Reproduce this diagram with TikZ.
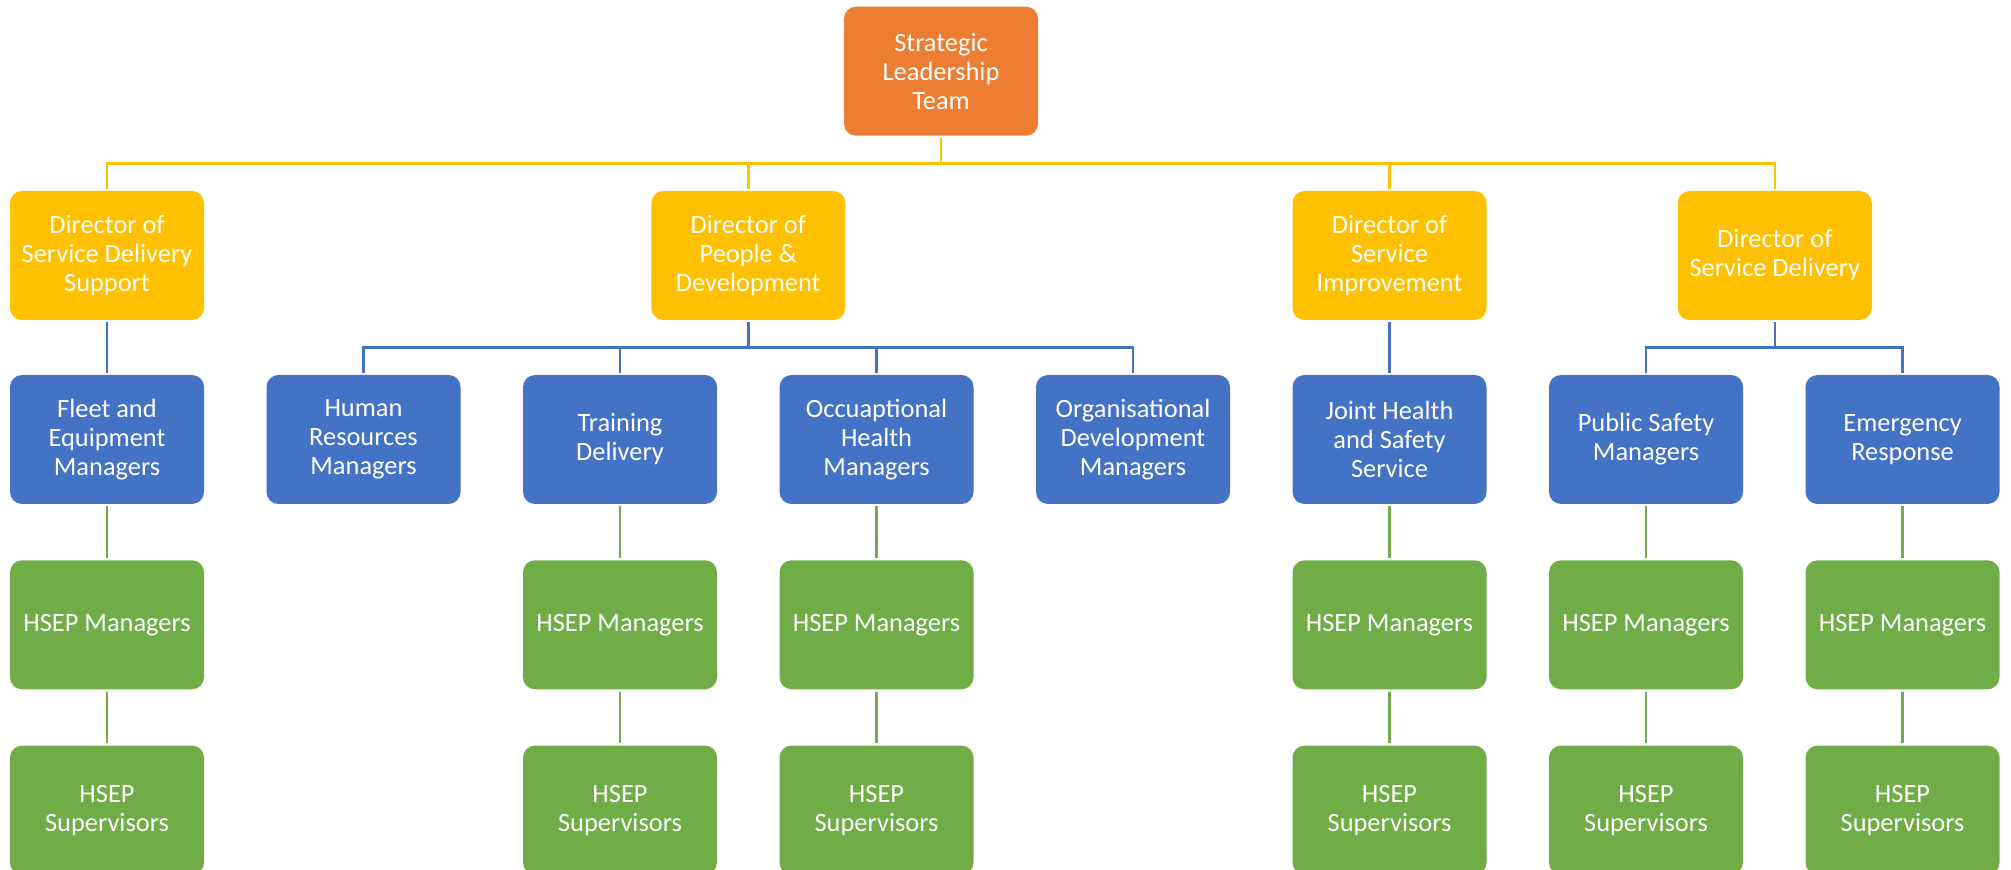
\documentclass[tikz,border=0pt]{standalone}
\usepackage{fontspec}
\setmainfont{Carlito}
\usepackage{xcolor}
\usetikzlibrary{calc,positioning}
\definecolor{sltorange}{HTML}{ED7D31}
\definecolor{diryellow}{HTML}{FFC000}
\definecolor{mgrblue}{HTML}{4472C4}
\definecolor{hsepgreen}{HTML}{70AD47}
\tikzset{%
  unit/.style={rectangle,rounded corners=6pt,minimum width=97pt,minimum height=64.5pt,
    inner sep=2pt,align=center,text=white,font=\fontsize{13.2}{14.5}\selectfont},
  slt/.style={unit,fill=sltorange},
  director/.style={unit,fill=diryellow},
  manager/.style={unit,fill=mgrblue},
  hsep/.style={unit,fill=hsepgreen},
  link/.style={line width=1.25pt,shorten <=1pt,shorten >=1pt},
}

\begin{document}
\begin{tikzpicture}[x=0.5pt,y=0.5pt,node distance=27.75pt]
  \useasboundingbox (0,0) rectangle (2011,-870);

  \node[slt] (team) at (941,-71.2) {Strategic\\Leadership\\Team};

  \node[director] (dsds) at (107,-255.5) {Director of\\Service Delivery\\Support};
  \node[director] (dpd) at (748.25,-255.5) {Director of\\People \&\\Development};
  \node[director] (dsi) at (1389.5,-255.5) {Director of\\Service\\Improvement};
  \node[director] (dsd) at (1774.75,-255.5) {Director of\\Service Delivery};

  \foreach \name/\col/\txt in {fleet/0/{Fleet and\\Equipment\\Managers},
      hr/1/{Human\\Resources\\Managers},train/2/{Training\\Delivery},
      occ/3/{Occuaptional\\Health\\Managers},orgdev/4/{Organisational\\Development\\Managers},
      jhss/5/{Joint Health\\and Safety\\Service},pubsafe/6/{Public Safety\\Managers},
      emerg/7/{Emergency\\Response}}
    \node[manager] (\name) at (107+256.5*\col,-439.5) {\txt};

  \coordinate (dirbus) at (0,-163.4);
  \coordinate (mgrbus) at (0,-347.6);

  \foreach \d in {dsds,dpd,dsi,dsd}
    \draw[link,diryellow] (team.south) -- (team.south |- dirbus) -| (\d.north);

  \draw[link,mgrblue] (dsds) -- (fleet);
  \draw[link,mgrblue] (dsi) -- (jhss);
  \foreach \m in {hr,train,occ,orgdev}
    \draw[link,mgrblue] (dpd.south) -- (dpd.south |- mgrbus) -| (\m.north);
  \foreach \m in {pubsafe,emerg}
    \draw[link,mgrblue] (dsd.south) -- (dsd.south |- mgrbus) -| (\m.north);

  \foreach \m in {fleet,train,occ,jhss,pubsafe,emerg} {
    \node[hsep,below=of \m] (\m-mgr) {HSEP Managers};
    \node[hsep,below=of \m-mgr] (\m-sup) {HSEP\\Supervisors};
    \draw[link,hsepgreen] (\m) -- (\m-mgr);
    \draw[link,hsepgreen] (\m-mgr) -- (\m-sup);
  }
\end{tikzpicture}
\end{document}
